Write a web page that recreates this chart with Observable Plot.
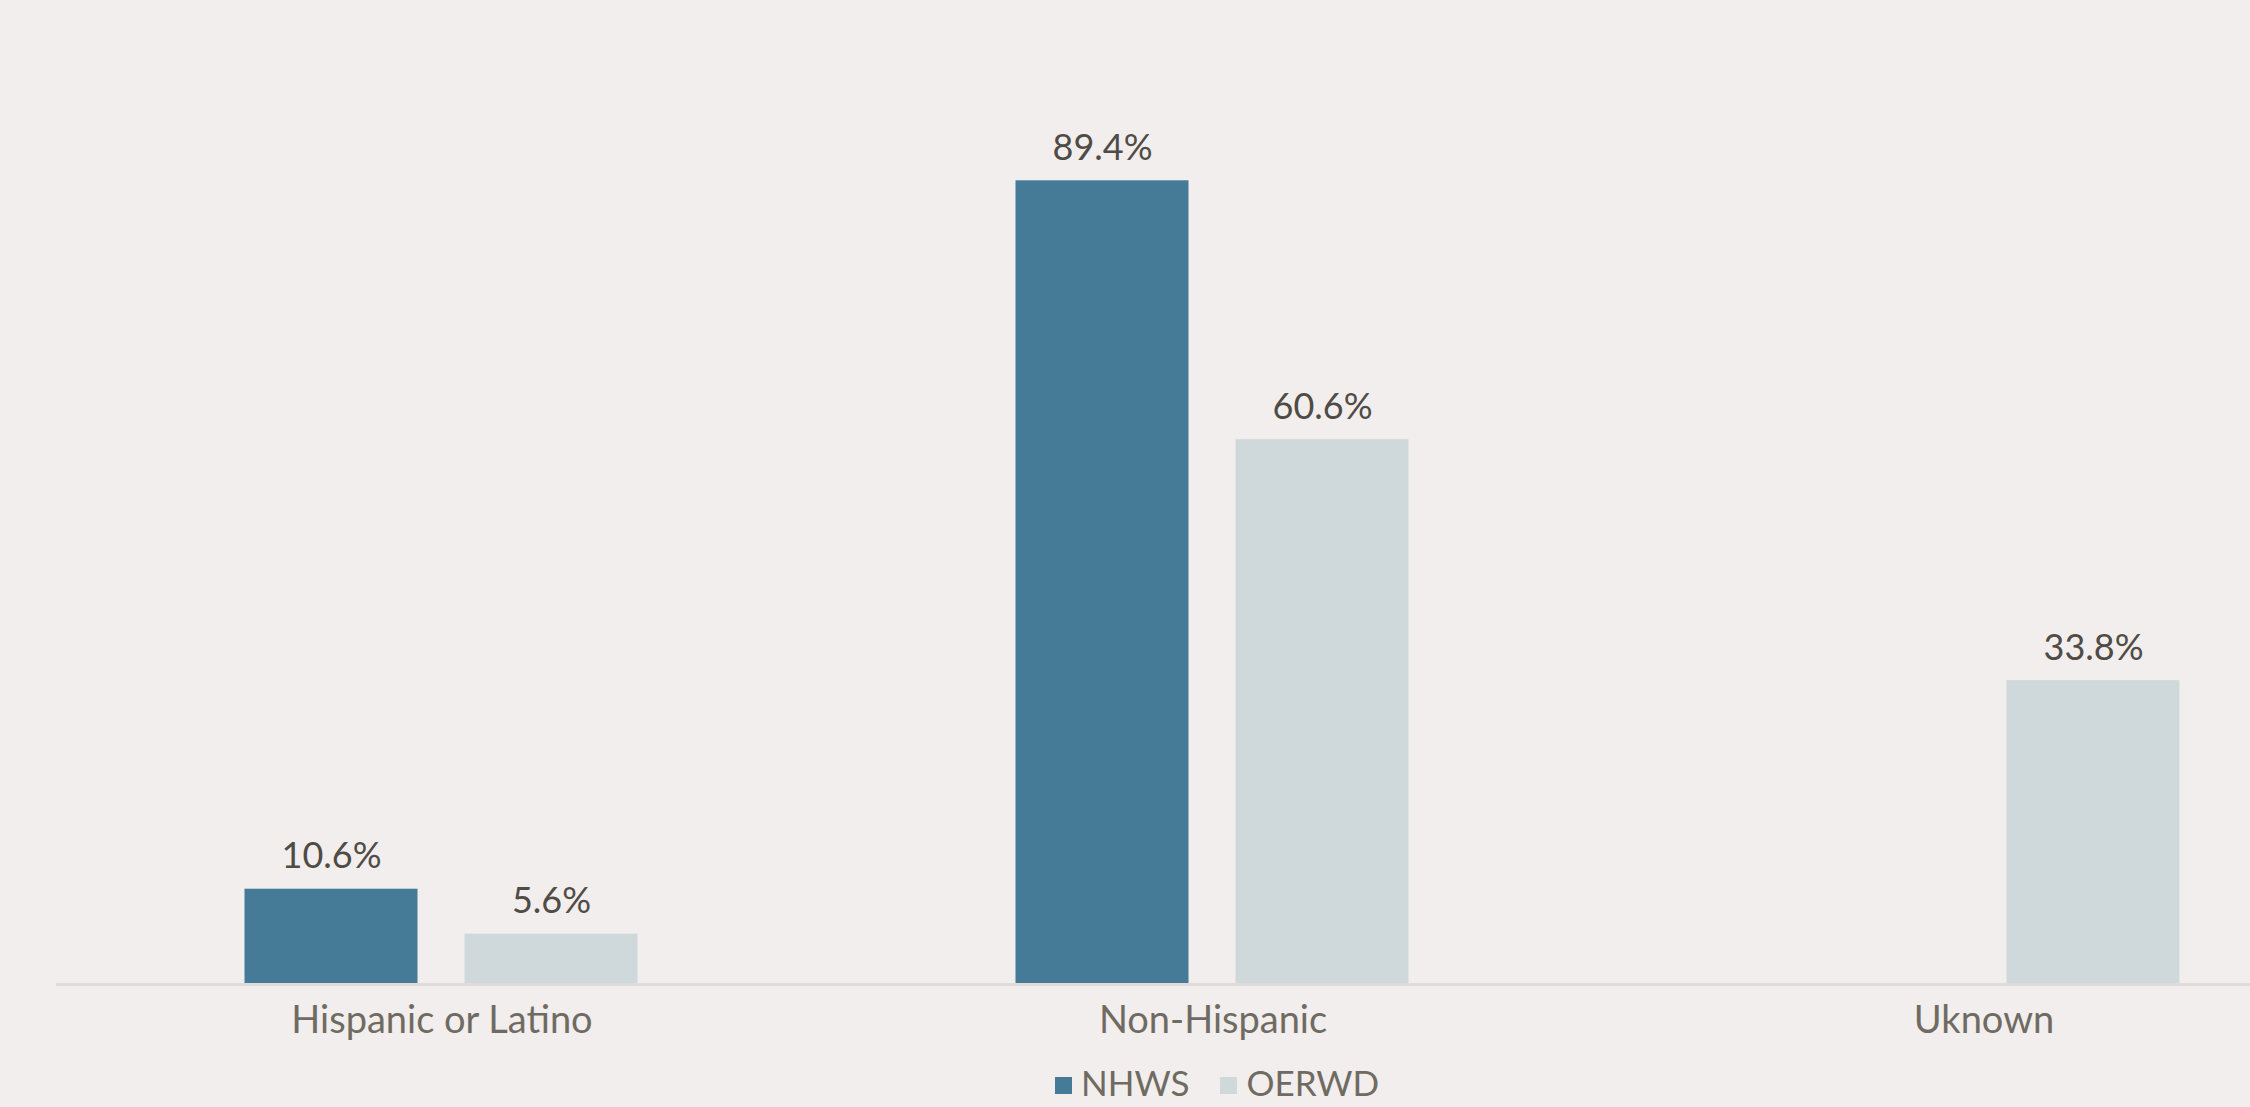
<!DOCTYPE html>
<html>
<head>
<meta charset="utf-8">
<script src="https://cdn.jsdelivr.net/npm/d3@7"></script>
<script src="https://cdn.jsdelivr.net/npm/@observablehq/plot@0.6"></script>
<style>
  html, body { margin: 0; padding: 0; background: #f2eeed; overflow: hidden; width: 2250px; height: 1107px; }
  #chart { position: absolute; left: 0; top: 0; }
  #legend { position: absolute; left: 0; top: 1059px; width: 2434px; display: flex; justify-content: center; gap: 31px;
            font-family: Lato, "Open Sans", sans-serif; font-size: 35px; color: #6f6b62; line-height: 46px; }
  .item { display: flex; align-items: center; gap: 9px; }
  .sw { width: 17px; height: 17px; display: inline-block; margin-top: 6px; }
</style>
</head>
<body>
<div id="chart"></div>
<div id="legend"></div>
<script>
const categories = ["Hispanic or Latino", "Non-Hispanic", "Uknown"];
const seriesNames = ["NHWS", "OERWD"];
const nhws = [10.6, 89.4, null];
const oerwd = [5.6, 60.6, 33.8];
const seriesColors = ["#457b96", "#cfd9db"];

const data = [];
categories.forEach((c, i) => {
  if (nhws[i] != null) data.push({category: c, series: "NHWS", value: nhws[i]});
  if (oerwd[i] != null) data.push({category: c, series: "OERWD", value: oerwd[i]});
});

const chart = Plot.plot({
  width: 2250,
  height: 1050,
  marginLeft: 55.5,
  marginRight: -118.5,
  marginTop: 85,
  marginBottom: 66,
  style: {background: "transparent", fontFamily: "Lato, 'Open Sans', sans-serif", overflow: "visible"},
  fx: {domain: categories, padding: 0, label: null},
  x: {domain: seriesNames, paddingInner: 0.2136, paddingOuter: 0.859, axis: null},
  y: {domain: [0, 100], axis: null},
  color: {domain: seriesNames, range: seriesColors},
  marks: [
    Plot.barY(data, {fx: "category", x: "series", y: "value", fill: "series"}),
    Plot.ruleY([0], {stroke: "#e0dcda", strokeWidth: 3}),
    Plot.text(data, {fx: "category", x: "series", y: "value", text: d => d.value.toFixed(1) + "%",
      lineAnchor: "bottom", dy: -21, fontSize: 36, fill: "#4f4b45"}),
    Plot.axisFx({anchor: "bottom", tickSize: 0, tickPadding: 22, fontSize: 38, fill: "#6f6b62", label: null})
  ]
});
document.getElementById("chart").appendChild(chart);

const legend = document.getElementById("legend");
seriesNames.forEach((s, i) => {
  const item = document.createElement("div");
  item.className = "item";
  const sw = document.createElement("span");
  sw.className = "sw";
  sw.style.background = seriesColors[i];
  const t = document.createElement("span");
  t.textContent = s;
  item.appendChild(sw);
  item.appendChild(t);
  legend.appendChild(item);
});
</script>
</body>
</html>
